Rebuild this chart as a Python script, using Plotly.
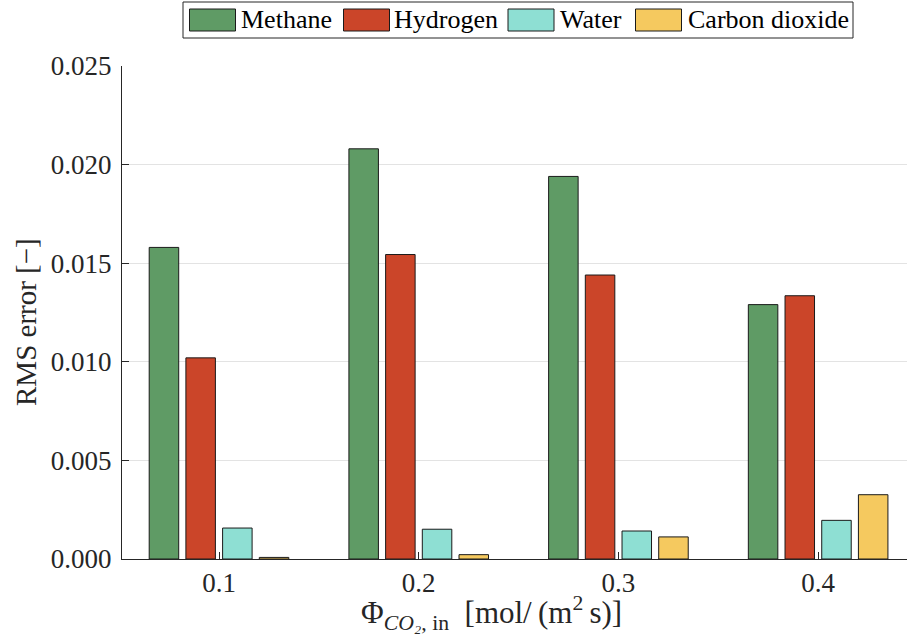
import plotly.graph_objects as go

flux = [0.1, 0.2, 0.3, 0.4]
tick_text = ["0.1", "0.2", "0.3", "0.4"]
series_names = ["Methane", "Hydrogen", "Water", "Carbon dioxide"]
methane = [0.0158, 0.0208, 0.0194, 0.0129]
hydrogen = [0.0102, 0.01544, 0.0144, 0.01335]
water = [0.00157, 0.00151, 0.00142, 0.00196]
co2 = [0.00008, 0.00022, 0.00112, 0.00326]
colors = ["#5F9B65", "#CB4529", "#8EDFD3", "#F5C95F"]

W, H = 907, 641
L, R, T, B = 122, 0, 66, 82
FONT = "Liberation Serif"
AX = "#262626"

fig = go.Figure()
for name, vals, col in zip(series_names, [methane, hydrogen, water, co2], colors):
    fig.add_trace(go.Bar(x=flux, y=vals, name=name, marker=dict(color=col, line=dict(color="#1a1a1a", width=1)),
                         showlegend=False))

pw = W - L - R
ph = H - T - B
def px(x):
    return (x - L) / pw
def py(y):
    return (H - B - y) / ph

shapes = []
annotations = []
# legend box
shapes.append(dict(type="rect", xref="paper", yref="paper", x0=px(183), x1=px(853), y0=py(38), y1=py(2),
                   line=dict(color="#262626", width=1), fillcolor="white"))
sw_left = [189.5, 343.5, 508, 635.5]
txt_left = [239, 392, 558, 686]
for i, name in enumerate(series_names):
    shapes.append(dict(type="rect", xref="paper", yref="paper", x0=px(sw_left[i]), x1=px(sw_left[i] + 46),
                       y0=py(31), y1=py(9), line=dict(color="#1a1a1a", width=1), fillcolor=colors[i]))
    annotations.append(dict(xref="paper", yref="paper", x=px(txt_left[i]), y=py(20), text=name, showarrow=False,
                            xanchor="left", yanchor="middle", font=dict(family=FONT, size=26, color="black")))

annotations.append(dict(xref="paper", yref="paper", x=px(26), y=py(322), text="RMS error [\u2212]", textangle=-90,
                        showarrow=False, xanchor="center", yanchor="middle", font=dict(family=FONT, size=29, color="#262626")))
annotations.append(dict(xref="paper", yref="paper", x=px(491), y=py(613),
                        text="\u03a6<sub><i>CO\u2082</i>, in</sub>\u2002[mol/\u2009(m<sup>2</sup>\u2009s)]",
                        showarrow=False, xanchor="center", yanchor="middle", font=dict(family=FONT, size=31, color="#262626")))

fig.update_layout(
    width=W, height=H, margin=dict(l=L, r=R, t=T, b=B),
    paper_bgcolor="white", plot_bgcolor="white",
    barmode="group", bargap=0.265, bargroupgap=0.196,
    font=dict(family=FONT, size=27, color="#262626"),
    shapes=shapes, annotations=annotations,
)
fig.update_xaxes(range=[0.05143, 0.4445], tickvals=flux, ticktext=tick_text, showgrid=False,
                 showline=True, linecolor=AX, linewidth=1, ticks="inside", ticklen=7, tickcolor=AX,
                 tickfont=dict(family=FONT, size=27, color="#262626"), zeroline=False)
fig.update_yaxes(range=[0, 0.025], tickvals=[0, 0.005, 0.01, 0.015, 0.02, 0.025], tickformat=".3f",
                 showgrid=True, gridcolor="#e3e3e3", gridwidth=1,
                 showline=True, linecolor=AX, linewidth=1, ticks="inside", ticklen=7, tickcolor=AX,
                 tickfont=dict(family=FONT, size=27, color="#262626"), zeroline=False, ticklabelstandoff=4)

fig.write_html("out.html")
